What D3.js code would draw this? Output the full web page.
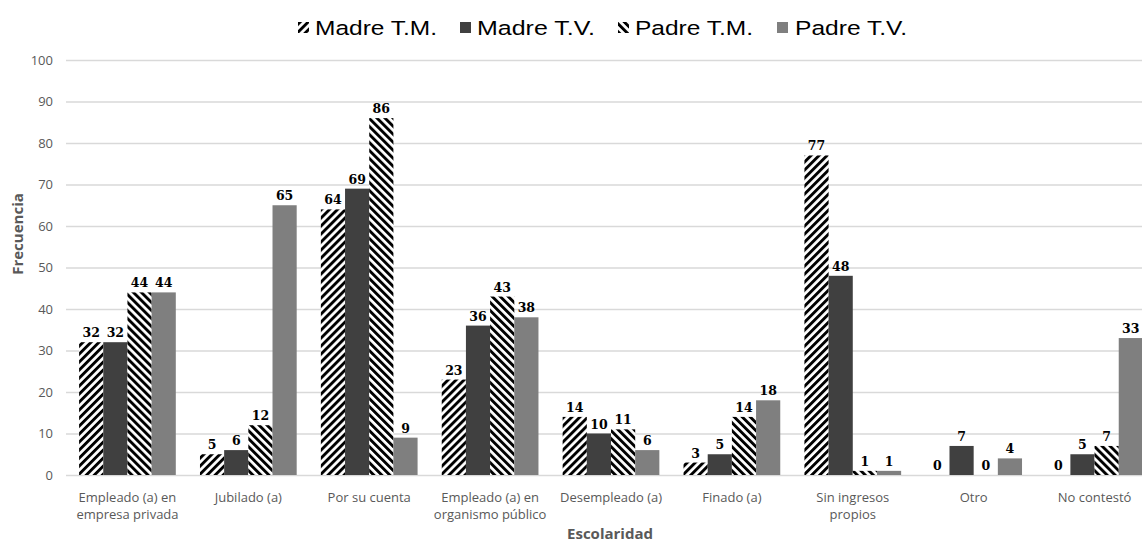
<!DOCTYPE html>
<html>
<head>
<meta charset="utf-8">
<script src="https://cdn.jsdelivr.net/npm/d3@7"></script>
<style>
  body { margin: 0; background: #fff; }
  svg { display: block; overflow: hidden; }
</style>
</head>
<body>
<script>
  var categories = [
    ["Empleado (a) en", "empresa privada"],
    ["Jubilado (a)"],
    ["Por su cuenta"],
    ["Empleado (a) en", "organismo público"],
    ["Desempleado (a)"],
    ["Finado (a)"],
    ["Sin ingresos", "propios"],
    ["Otro"],
    ["No contestó"]
  ];
  var seriesNames = ["Madre T.M.", "Madre T.V.", "Padre T.M.", "Padre T.V."];
  var madreTM = [32, 5, 64, 23, 14, 3, 77, 0, 0];
  var madreTV = [32, 6, 69, 36, 10, 5, 48, 7, 5];
  var padreTM = [44, 12, 86, 43, 11, 14, 1, 0, 7];
  var padreTV = [44, 65, 9, 38, 6, 18, 1, 4, 33];
  var yTicks = [0, 10, 20, 30, 40, 50, 60, 70, 80, 90, 100];

  var series = [madreTM, madreTV, padreTM, padreTV];
  var fills = ["url(#hatchA)", "#404040", "url(#hatchB)", "#7f7f7f"];

  var width = 1142, height = 543;
  var plotLeft = 66, plotRight = 1142;

  var svg = d3.select("body").append("svg")
    .attr("width", width)
    .attr("height", height);

  var defs = svg.append("defs");
  function hatch(id, angle) {
    var p = defs.append("pattern")
      .attr("id", id)
      .attr("patternUnits", "userSpaceOnUse")
      .attr("width", 5.66)
      .attr("height", 8)
      .attr("patternTransform", "rotate(" + angle + ")");
    p.append("rect").attr("width", 5.66).attr("height", 8).attr("fill", "#fff");
    p.append("rect").attr("width", 2.9).attr("height", 8).attr("fill", "#000");
  }
  hatch("hatchA", 45);
  hatch("hatchB", -45);

  var x0 = d3.scaleBand()
    .domain(d3.range(categories.length))
    .range([67, 1155])
    .paddingInner(0.2)
    .paddingOuter(0.1);

  var x1 = d3.scaleBand()
    .domain(d3.range(series.length))
    .range([0, x0.bandwidth()]);

  var y = d3.scaleLinear().domain([0, 100]).range([475, 60]);

  // gridlines + tick labels
  var yAxis = svg.append("g")
    .attr("transform", "translate(" + plotLeft + ",0)")
    .call(d3.axisLeft(y).tickValues(yTicks).tickSize(-(plotRight - plotLeft)).tickPadding(13));
  yAxis.select(".domain").remove();
  yAxis.selectAll(".tick line").attr("stroke", "#d9d9d9").attr("stroke-width", 1.3);
  yAxis.selectAll(".tick text")
    .attr("fill", "#595959")
    .style("font-family", "'Open Sans', sans-serif")
    .style("font-size", "13px");

  // bars
  var groups = svg.selectAll("g.grp")
    .data(categories)
    .enter().append("g")
    .attr("class", "grp")
    .attr("transform", function(d, i) { return "translate(" + x0(i) + ",0)"; });

  groups.each(function(c, i) {
    var g = d3.select(this);
    series.forEach(function(s, k) {
      g.append("rect")
        .attr("x", x1(k))
        .attr("y", y(s[i]))
        .attr("width", x1.bandwidth())
        .attr("height", y(0) - y(s[i]))
        .attr("fill", fills[k]);
      g.append("text")
        .attr("x", x1(k) + x1.bandwidth() / 2)
        .attr("y", y(s[i]) - 5)
        .attr("text-anchor", "middle")
        .style("font-family", "'DejaVu Serif', serif")
        .style("font-weight", "bold")
        .style("font-size", "12.5px")
        .attr("fill", "#000")
        .text(s[i]);
    });
    var t = g.append("text")
      .attr("x", x0.bandwidth() / 2)
      .attr("y", 502)
      .attr("text-anchor", "middle")
      .style("font-family", "'Open Sans', sans-serif")
      .style("font-size", "13px")
      .attr("fill", "#595959");
    c.forEach(function(line, j) {
      t.append("tspan")
        .attr("x", x0.bandwidth() / 2)
        .attr("dy", j === 0 ? 0 : 17)
        .text(line);
    });
  });

  // axis titles
  svg.append("text")
    .attr("x", 610)
    .attr("y", 539)
    .attr("text-anchor", "middle")
    .style("font-family", "'Open Sans', sans-serif")
    .style("font-weight", "bold")
    .style("font-size", "15px")
    .attr("fill", "#595959")
    .text("Escolaridad");

  svg.append("text")
    .attr("transform", "translate(23,234) rotate(-90)")
    .attr("text-anchor", "middle")
    .style("font-family", "'Open Sans', sans-serif")
    .style("font-weight", "bold")
    .style("font-size", "15px")
    .attr("fill", "#595959")
    .text("Frecuencia");

  // legend
  var legendSwatchX = [298, 460, 618, 777];
  var legendTextX = [315, 477, 635, 795];
  var legendTextLen = [122, 118, 118, 112];
  seriesNames.forEach(function(name, k) {
    svg.append("rect")
      .attr("x", legendSwatchX[k])
      .attr("y", 22)
      .attr("width", 11)
      .attr("height", 11)
      .attr("fill", fills[k]);
    svg.append("text")
      .attr("x", legendTextX[k])
      .attr("y", 35)
      .attr("textLength", legendTextLen[k])
      .attr("lengthAdjust", "spacingAndGlyphs")
      .style("font-family", "'Liberation Sans', Arial, sans-serif")
      .style("font-size", "20.5px")
      .attr("fill", "#000")
      .text(name);
  });
</script>
</body>
</html>
